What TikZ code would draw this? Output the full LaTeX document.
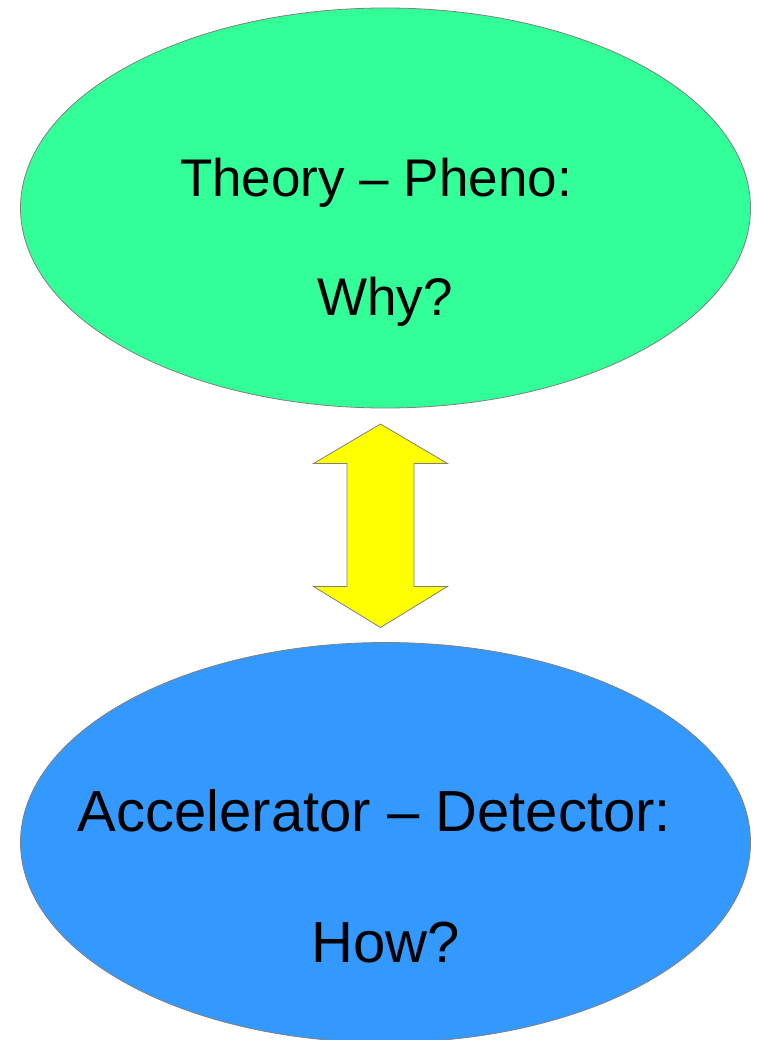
\documentclass[tikz,border=0pt]{standalone}
\usepackage{fontspec}
\setmainfont{Liberation Sans}
\usetikzlibrary{shapes.geometric}
\definecolor{seagreen}{RGB}{51,255,153}
\definecolor{skyblue}{RGB}{51,153,255}
\definecolor{pureyellow}{RGB}{255,255,0}
\begin{document}
\begin{tikzpicture}[x=1pt,y=-1pt,
        bubble/.style={ellipse,draw=gray,line width=0.8pt,minimum width=730pt,minimum height=400pt,inner sep=0pt},
        bigtext/.style={anchor=base,inner sep=0pt}]
        \useasboundingbox (0,0) rectangle (757,1040);
        \clip (0,0) rectangle (757,1040);

        % 上面的椭圆 (Theory)
        \node[bubble,fill=seagreen] (theory) at (385.5,208) {};
        \node[bigtext,font=\fontsize{53}{60}\selectfont] (theoryline) at (376,197) {Theory -- Pheno:};
        \node[bigtext,font=\fontsize{53}{60}\selectfont] (why) at (385,315) {Why?};

        % 中间的双向箭头
        \draw[draw=gray,line width=0.8pt,fill=pureyellow,line join=miter]
            (380.5,424) -- (447.5,463.5) -- (414,463.5) -- (414,586.5) -- (447.5,586.5)
            -- (380.5,627.5) -- (313.5,586.5) -- (347,586.5) -- (347,463.5) -- (313.5,463.5) -- cycle;

        % 下面的椭圆 (Accelerator)
        \node[bubble,fill=skyblue] (accel) at (385.5,842.5) {};
        \node[bigtext,font=\fontsize{58}{66}\selectfont] (accelline) at (374.5,831) {Accelerator -- Detector:};
        \node[bigtext,font=\fontsize{58}{66}\selectfont] (how) at (385.5,962) {How?};
    \end{tikzpicture}
\end{document}
